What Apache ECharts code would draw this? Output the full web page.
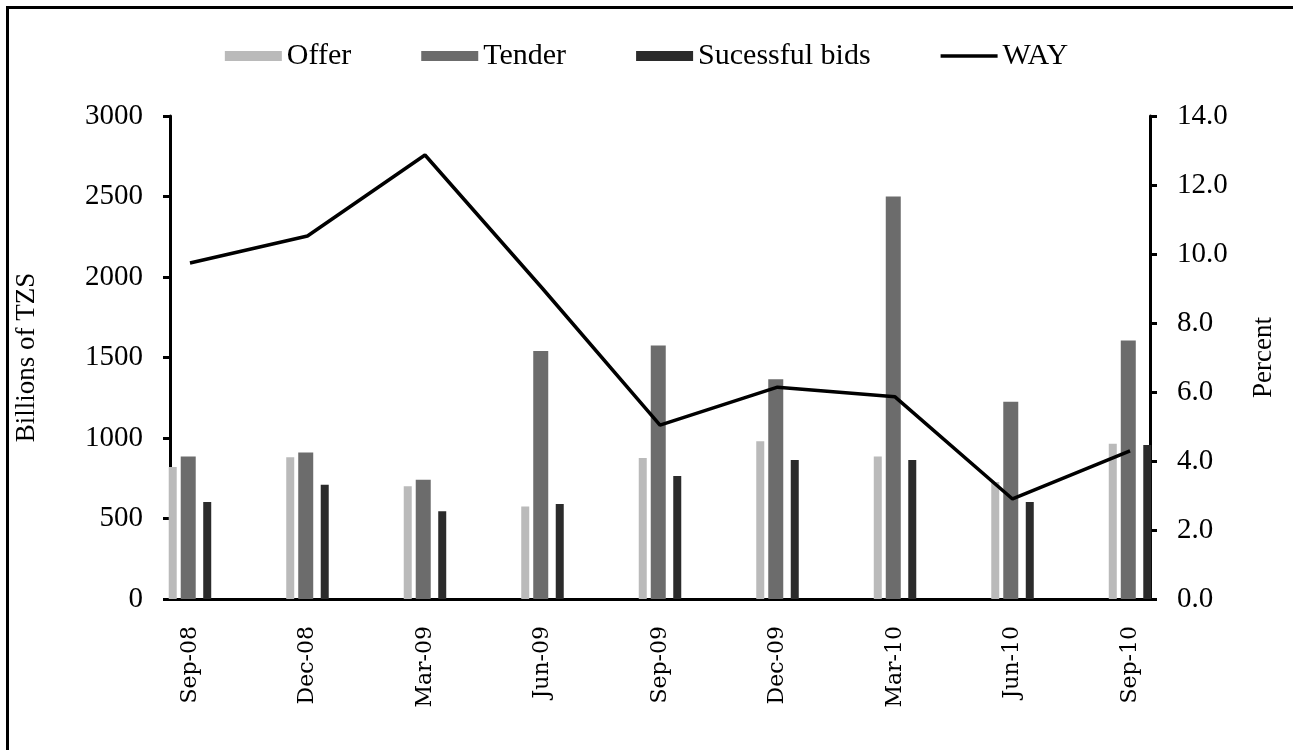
<!DOCTYPE html>
<html>
  <head>
    <meta charset="utf-8" />
    <title>Offer, tender and WAY</title>
    <script src="https://cdn.jsdelivr.net/npm/echarts@6/dist/echarts.min.js"></script>
    <style>
      html, body { margin: 0; padding: 0; background: #fff; }
    </style>
  </head>
  <body>
    <div id="main" style="width: 1293px; height: 750px;"></div>
    <script type="text/javascript">
      // data
      const months = ["Sep-08", "Dec-08", "Mar-09", "Jun-09", "Sep-09", "Dec-09", "Mar-10", "Jun-10", "Sep-10"];
      const offer = [820, 880, 700, 575, 876, 980, 885, 727, 965];
      const tender = [885, 910, 740, 1540, 1575, 1365, 2500, 1225, 1605];
      const successful = [602, 710, 545, 590, 764, 863, 863, 602, 956];
      const way = [9.74, 10.52, 12.87, 9.0, 5.04, 6.14, 5.86, 2.9, 4.29];
      const leftTicks = [0, 500, 1000, 1500, 2000, 2500, 3000];
      const rightTicks = [0, 2, 4, 6, 8, 10, 12, 14];

      const serif = "'Liberation Serif', 'Times New Roman', serif";
      const pairs = arr => arr.map((v, i) => [i, v]);

      const myChart = echarts.init(document.getElementById("main"));
      const option = {
        animation: false,
        backgroundColor: "#fff",
        textStyle: { fontFamily: serif, color: "#000" },
        // frame: only top and left edges fall inside the picture
        graphic: [
          {
            type: "rect",
            shape: { x: 7.5, y: 7.5, width: 1400, height: 800 },
            style: { fill: "none", stroke: "#000", lineWidth: 3 },
          },
        ],
        legend: {
          top: 36,
          left: "center",
          itemWidth: 57,
          itemHeight: 10,
          itemGap: 70,
          textStyle: { fontFamily: serif, fontSize: 30, color: "#000" },
          data: [
            { name: "Offer", icon: "rect" },
            { name: "Tender", icon: "rect" },
            { name: "Sucessful bids", icon: "rect" },
            { name: "WAY", icon: "path://M0,0L57,0L57,3.5L0,3.5Z" },
          ],
        },
        grid: { left: 170, right: 143, top: 116, bottom: 151 },
        xAxis: {
          type: "value",
          min: -0.17,
          max: months.length - 1 + 0.17,
          splitLine: { show: false },
          axisLine: { show: true, onZero: false, lineStyle: { color: "#000", width: 3 } },
          axisTick: { show: false },
          axisLabel: {
            customValues: months.map((m, i) => i),
            formatter: v => months[Math.round(v)] || "",
            rotate: 90,
            margin: 27,
            fontFamily: "'DejaVu Serif', serif",
            fontSize: 22,
            color: "#000",
          },
        },
        yAxis: [
          {
            type: "value",
            position: "left",
            min: leftTicks[0],
            max: leftTicks[leftTicks.length - 1],
            interval: 500,
            name: "Billions of TZS",
            nameLocation: "middle",
            nameGap: 130,
            nameTextStyle: { fontFamily: serif, fontSize: 27, color: "#000" },
            splitLine: { show: false },
            axisLine: { show: true, onZero: false, lineStyle: { color: "#000", width: 3 } },
            axisTick: { show: true, length: 7, lineStyle: { color: "#000", width: 3 } },
            axisLabel: {
              margin: 27,
              fontFamily: serif,
              fontSize: 29,
              color: "#000",
              formatter: v => String(v),
            },
          },
          {
            type: "value",
            position: "right",
            min: rightTicks[0],
            max: rightTicks[rightTicks.length - 1],
            interval: 2,
            name: "Percent",
            nameLocation: "middle",
            nameGap: 100,
            nameRotate: 90,
            nameTextStyle: { fontFamily: serif, fontSize: 27, color: "#000" },
            splitLine: { show: false },
            axisLine: { show: true, onZero: false, lineStyle: { color: "#000", width: 3 } },
            axisTick: { show: true, length: 7, lineStyle: { color: "#000", width: 3 } },
            axisLabel: {
              margin: 27,
              fontFamily: serif,
              fontSize: 29,
              color: "#000",
              formatter: v => v.toFixed(1),
            },
          },
        ],
        series: [
          {
            name: "Offer",
            type: "bar",
            barWidth: 8,
            barGap: "50%",
            itemStyle: { color: "#bababa" },
            data: pairs(offer),
          },
          {
            name: "Tender",
            type: "bar",
            barWidth: 15,
            barGap: "50%",
            itemStyle: { color: "#6c6c6c" },
            data: pairs(tender),
          },
          {
            name: "Sucessful bids",
            type: "bar",
            barWidth: 8,
            barGap: "50%",
            itemStyle: { color: "#2b2b2b" },
            data: pairs(successful),
          },
          {
            name: "WAY",
            type: "line",
            yAxisIndex: 1,
            symbol: "none",
            lineStyle: { color: "#000", width: 3.5 },
            itemStyle: { color: "#000" },
            data: pairs(way),
          },
        ],
      };
      myChart.setOption(option);
    </script>
  </body>
</html>
